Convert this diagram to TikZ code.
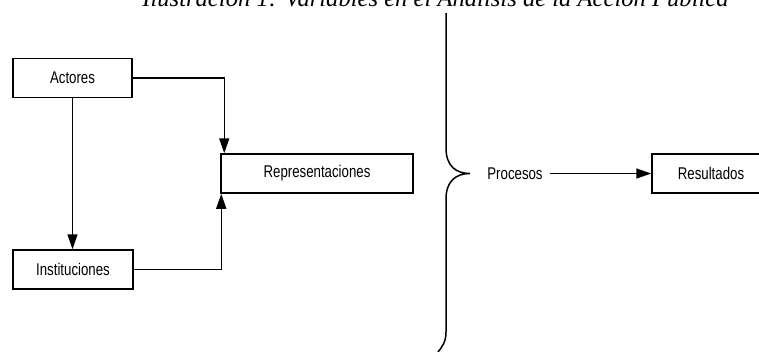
\documentclass[tikz,border=0pt]{standalone}
\usepackage{fontspec}
\newfontfamily\boxfont{Liberation Sans}[FakeStretch=0.78]
\newfontfamily\titlefont{Liberation Serif}
\usetikzlibrary{arrows.meta,positioning}

\tikzset{
    caja/.style={rectangle, draw, line width=0.45mm, minimum height=11.7mm,
        inner sep=0pt, font=\boxfont\fontsize{14.5}{16}\selectfont},
    flecha/.style={-{Triangle[length=4.5mm,width=3mm]}, line width=0.45mm}
}

\begin{document}
\begin{tikzpicture}[x=0.3mm, y=-0.3mm]
    \useasboundingbox (0,0) rectangle (759,351);

    % Title (cut at the top edge)
    \node[anchor=base, inner sep=0pt, font=\titlefont\itshape\fontsize{21}{23}\selectfont]
        (titulo) at (435.5,6.5) {Ilustración 1: Variables en el Análisis de la Acción Pública};

    % Boxes
    \node[caja, minimum width=35.7mm] (actores) at (72.5,78) {Actores};
    \node[caja, minimum width=36mm] (instituciones) at (73,269.5) {Instituciones};
    \node[caja, minimum width=57.6mm] (repres) at (317,173.5) {Representaciones};
    \node[caja, minimum width=35.4mm] (resultados) at (711,173.5) {Resultados};

    % Brace and process
    \coordinate (punta) at (470,173.5);
    \draw[line width=0.45mm] (446,13) -- (446,148)
        .. controls (446,166) and (456,173.5) .. (punta)
        .. controls (456,173.5) and (446,181) .. (446,199)
        -- (446,332) .. controls (446,342) and (442,347) .. (438,352);
    \node[font=\boxfont\fontsize{14.5}{16}\selectfont, inner sep=2mm] (procesos) at (515,173.5) {Procesos};

    % Arrows
    \draw[flecha] (actores.east) -| ([xshift=1.2mm]repres.north west);
    \draw[flecha] (actores.south) -- (actores.south |- instituciones.north);
    \draw[flecha] (instituciones.east) -| ([xshift=0.3mm]repres.south west);
    \draw[flecha] (procesos.east) -- (resultados.west);
\end{tikzpicture}
\end{document}
